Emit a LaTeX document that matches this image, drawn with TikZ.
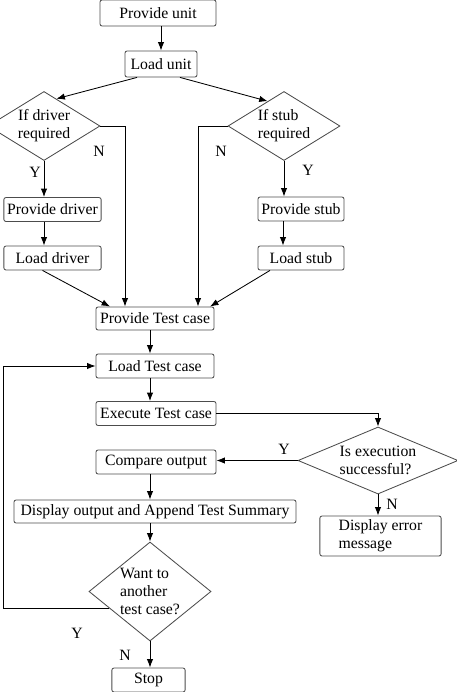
\documentclass[tikz,border=0pt]{standalone}
\usepackage{fontspec}
\setmainfont{Liberation Serif}
\usetikzlibrary{shapes.geometric,arrows.meta,calc}

\begin{document}
\begin{tikzpicture}[x=0.025cm,y=-0.025cm,
	font=\fontsize{11.2}{12.8}\selectfont,
	>={Latex[length=6pt,width=4.5pt]},line width=0.6pt,
	box/.style={draw=black!70,rounded corners=1.5pt,minimum height=0.6cm,inner sep=1pt},
	cond/.style={draw=black!70,diamond,inner sep=0pt}]
					\useasboundingbox (0,0) rectangle (456,692);
					\node[box,minimum width=2.9cm,minimum height=0.65cm] (pu) at (158,13) {Provide unit};
					\node[box,minimum width=1.8cm,minimum height=0.65cm] (lu) at (161,64) {Load unit};
					\node[cond,align=right,minimum width=2.8cm,minimum height=1.725cm,aspect=1.62] (dq) at (44,126) {If driver\\required};
					\node[cond,align=left,minimum width=2.8cm,minimum height=1.725cm,aspect=1.62] (sq) at (284,126) {If stub\\required};
					\node[box,minimum width=2.43cm] (pd) at (52.5,209.5) {Provide driver};
					\node[box,minimum width=2.43cm] (ld) at (52.5,258) {Load driver};
					\node[box,minimum width=2.15cm] (ps) at (301,209) {Provide stub};
					\node[box,minimum width=2.15cm] (ls) at (301,258) {Load stub};
					\node[box,minimum width=2.95cm,minimum height=0.575cm] (ptc) at (155,318.5) {Provide Test case};
					\node[box,minimum width=2.95cm] (ltc) at (155,366) {Load Test case};
					\node[box,minimum width=3cm] (etc) at (156,413.5) {Execute Test case};
					\node[cond,align=left,minimum width=4cm,minimum height=1.675cm,aspect=2.4] (exq) at (378,460.5) {Is execution\\successful?};
					\node[box,minimum width=3cm] (co) at (156,462) {Compare output};
					\node[box,minimum width=7.05cm,minimum height=0.575cm] (dsum) at (155,511.5) {Display output and Append Test Summary};
					\node[box,align=left,minimum width=3.03cm,minimum height=1cm] (err) at (380.5,536) {Display error\\message};
					\node[cond,align=left,minimum width=3.05cm,minimum height=2.475cm,aspect=1.23] (aq) at (150,591.5) {Want to\\another\\test case?};
					\node[box,minimum width=1.83cm] (stop) at (148.5,680) {Stop};
					\coordinate (back) at (3,0);
					\draw[->] (pu.south -| lu) -- (lu.north);
					\draw[->] ([xshift=-0.6cm]lu.south) -- ($(dq.north)!0.22!(dq.east)$);
					\draw[->] ([xshift=0.475cm]lu.south) -- ($(sq.north)!0.29!(sq.west)$);
					\draw[->] (dq.south) -- (dq.south |- pd.north);
					\draw[->] (dq.south |- pd.south) -- (dq.south |- ld.north);
					\draw[->] (sq.south) -- (sq.south |- ps.north);
					\draw[->] ([xshift=-0.45cm]ps.south) -- ([xshift=-0.45cm]ls.north);
					\draw[->] (dq.east) -| ([xshift=-0.75cm]ptc.north);
					\draw[->] (sq.west) -| ([xshift=1.075cm]ptc.north);
					\draw[->] ([xshift=-0.25cm]ld.south) -- ([xshift=-1.125cm]ptc.north);
					\draw[->] ([xshift=-0.775cm]ls.south) -- ([xshift=1.375cm]ptc.north);
					\draw[->] (ptc.south -| aq) -- (ltc.north -| aq);
					\draw[->] (ltc.south -| aq) -- (etc.north -| aq);
					\draw[->] (etc.east) -| (exq.north);
					\draw[->] (exq.west) -- (exq.west -| co.east);
					\draw[->] (exq.south) -- (exq.south |- err.north);
					\draw[->] (co.south -| aq) -- (dsum.north -| aq);
					\draw[->] (dsum.south -| aq) -- (aq.north);
					\draw[->] (aq.south) -- (aq.south |- stop.north);
					\draw[->] ($(aq.west)!0.34!(aq.south)$) -| (back |- ltc.west) -- (ltc.west);
					\node (n1) at (99,151) {N};
					\node (n2) at (221,151) {N};
					\node (y1) at (35,172) {Y};
					\node (y2) at (308,170) {Y};
					\node (y3) at (284,449) {Y};
					\node (n3) at (392,504) {N};
					\node (y4) at (77,633) {Y};
					\node (n4) at (125,655) {N};
				\end{tikzpicture}
\end{document}
